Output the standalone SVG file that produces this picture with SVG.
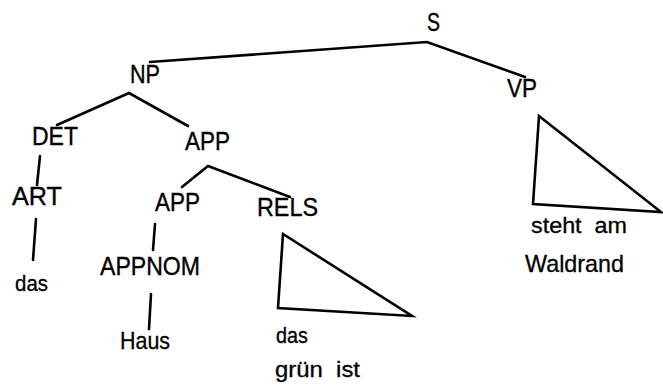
<svg xmlns="http://www.w3.org/2000/svg" width="663" height="387" viewBox="0 0 663 387">
  <style>
    .bg { fill: #ffffff; }
    .edge { stroke: #000000; stroke-width: 2.6; fill: none; stroke-linecap: round; stroke-linejoin: miter; }
    .cat { font-family: "Liberation Sans", Arial, sans-serif; font-size: 25px; fill: #000000; stroke: #000000; stroke-width: 0.35; white-space: pre; }
    .word { font-family: "Liberation Sans", Arial, sans-serif; font-size: 22px; fill: #000000; stroke: #000000; stroke-width: 0.3; white-space: pre; }
    .big { font-size: 24px; }
  </style>
  <rect class="bg" x="0" y="0" width="663" height="387"/>

  <!-- tree branches -->
  <g id="connectors">
    <polyline class="edge" points="150,62 427,42 525,77"/>
    <polyline class="edge" points="57,125 129,93 188,126"/>
    <line class="edge" x1="40" y1="156" x2="37" y2="185"/>
    <line class="edge" x1="36" y1="219" x2="33" y2="260"/>
    <polyline class="edge" points="182,187 208,166 290,197"/>
    <line class="edge" x1="155" y1="224" x2="153" y2="250"/>
    <line class="edge" x1="151" y1="294" x2="149" y2="329"/>
    <!-- collapsed subtrees -->
    <polygon class="edge" points="283,234 278,308 412,316"/>
    <polygon class="edge" points="539,116 533,204 661,212"/>
  </g>

  <g id="node-S"><text class="cat" x="427" y="31" textLength="13" lengthAdjust="spacingAndGlyphs">S</text></g>
  <g id="node-NP"><text class="cat" x="130" y="83" textLength="30" lengthAdjust="spacingAndGlyphs">NP</text></g>
  <g id="node-VP"><text class="cat" x="507" y="97" textLength="30" lengthAdjust="spacingAndGlyphs">VP</text></g>
  <g id="node-DET"><text class="cat" x="32" y="145" textLength="46" lengthAdjust="spacingAndGlyphs">DET</text></g>
  <g id="node-APP1"><text class="cat" x="185" y="150" textLength="45" lengthAdjust="spacingAndGlyphs">APP</text></g>
  <g id="node-ART"><text class="cat" x="12" y="205" textLength="50" lengthAdjust="spacingAndGlyphs">ART</text></g>
  <g id="node-APP2"><text class="cat" x="155" y="211" textLength="45" lengthAdjust="spacingAndGlyphs">APP</text></g>
  <g id="node-RELS"><text class="cat" x="257" y="216" textLength="61" lengthAdjust="spacingAndGlyphs">RELS</text></g>
  <g id="node-APPNOM"><text class="cat" x="100" y="275" textLength="100" lengthAdjust="spacingAndGlyphs">APPNOM</text></g>

  <g id="leaf-das1"><text class="word" x="15" y="291" textLength="33" lengthAdjust="spacingAndGlyphs">das</text></g>
  <g id="leaf-Haus"><text class="word big" x="120" y="349" textLength="50" lengthAdjust="spacingAndGlyphs">Haus</text></g>
  <g id="leaf-RELS">
    <text class="word" x="276" y="343" textLength="32" lengthAdjust="spacingAndGlyphs">das</text>
    <text class="word" x="275" y="377" textLength="85" lengthAdjust="spacingAndGlyphs">grün  ist</text>
  </g>
  <g id="leaf-VP">
    <text class="word" x="531" y="233" textLength="96" lengthAdjust="spacingAndGlyphs">steht  am</text>
    <text class="word big" x="525" y="272" textLength="99" lengthAdjust="spacingAndGlyphs">Waldrand</text>
  </g>
</svg>
